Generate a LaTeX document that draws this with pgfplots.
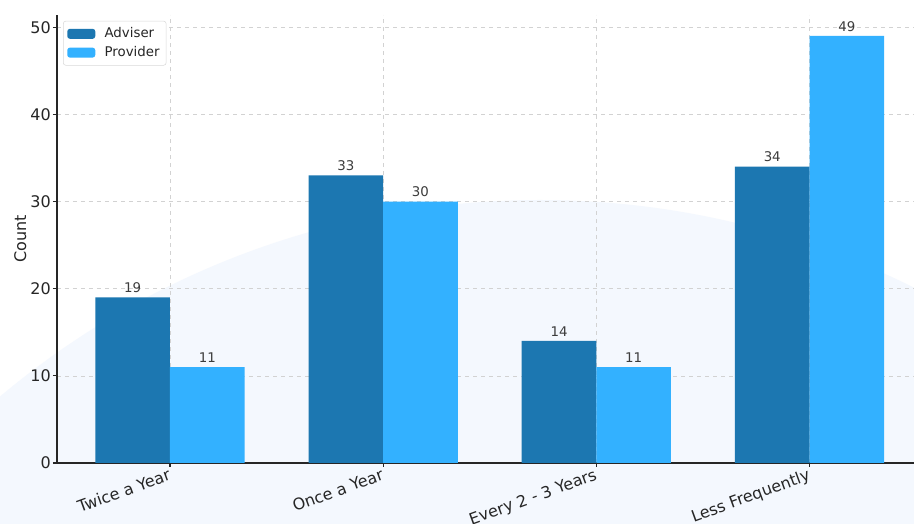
\documentclass[border=0pt]{standalone}
\usepackage{fontspec}
\setmainfont{DejaVu Sans}
\usepackage{pgfplots}
\pgfplotsset{compat=1.18}
\definecolor{adv}{HTML}{1C77B1}
\definecolor{prov}{HTML}{33B1FF}
\definecolor{bgblue}{HTML}{F4F8FE}
\definecolor{txt}{HTML}{262626}
\begin{document}
\begin{tikzpicture}
\useasboundingbox (0pt,0pt) rectangle (685.5pt,393pt);
\fill[white] (0pt,0pt) rectangle (685.5pt,393pt);
\begin{scope}
\clip (0pt,0pt) rectangle (685.5pt,393pt);
\fill[bgblue] (405pt,-387pt) circle (630pt);
\end{scope}
\begin{axis}[
  at={(42.75pt,45.75pt)}, anchor=south west,
  scale only axis, width=642.75pt, height=336pt,
  xmin=-0.53, xmax=3.49, ymin=0, ymax=51.4,
  axis x line*=bottom, axis y line*=left,
  axis line style={txt, line width=0.8pt},
  xtick={0,1,2,3},
  xticklabels={Twice a Year,Once a Year,Every 2 - 3 Years,Less Frequently},
  ytick={0,10,20,30,40,50},
  tick align=outside, major tick length=3pt,
  tick style={txt, line width=0.8pt},
  /pgf/number format/assume math mode=true,
  xticklabel style={rotate=20, anchor=north east, font=\fontsize{12}{14}\selectfont, text=txt, inner sep=0pt, xshift=-2pt},
  yticklabel style={font=\fontsize{12}{14}\selectfont, text=txt, inner sep=1.5pt},
  ylabel={Count}, ylabel style={font=\fontsize{12}{14}\selectfont, text=txt, yshift=-2pt},
  grid=major, grid style={dashed, gray!35, line width=0.5pt},
  ybar, bar width=0.35,
  nodes near coords,
  every node near coord/.append style={font=\fontsize{10}{12}\selectfont, text=txt!90, yshift=0pt},
  legend style={at={(0.007,0.987)}, anchor=north west, draw=gray!30, rounded corners=2pt, fill=white, font=\fontsize{10}{12}\selectfont, text=txt, row sep=1pt, inner sep=3pt},
  legend cell align=left,
  legend image code/.code={\fill[#1] (0pt,-3.75pt) rectangle (21pt,3.75pt); \path (26pt,0pt);},
]
\addplot[fill=adv, draw=none, bar shift=-0.175] coordinates {(0,19) (1,33) (2,14) (3,34)};
\addplot[fill=prov, draw=none, bar shift=0.175] coordinates {(0,11) (1,30) (2,11) (3,49)};
\legend{Adviser,Provider}
\end{axis}
\end{tikzpicture}
\end{document}
